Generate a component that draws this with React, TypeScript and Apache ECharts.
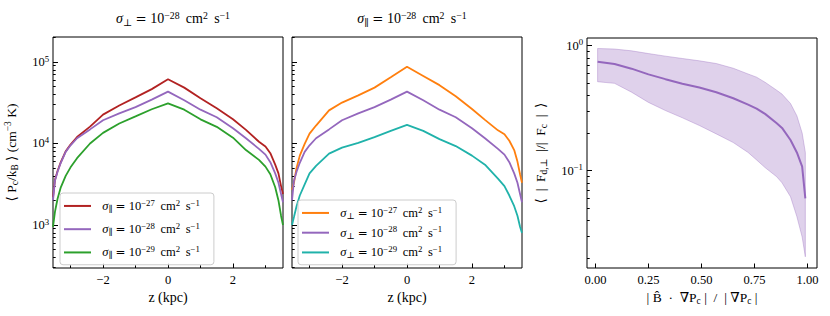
import React, { useEffect, useRef } from 'react';
import * as echarts from 'echarts';

// ---------- data ----------
const zGrid = [-3.54, -3.48, -3.4, -3.3, -3.15, -3.0, -2.8, -2.4, -2.0, -1.5, -1.0, -0.5, 0, 0.5, 1.0, 1.5, 2.0, 2.4, 2.8, 3.0, 3.15, 3.3, 3.4, 3.48, 3.54];
// panel 1: sigma_perp = 1e-28, varying sigma_par
const parE27 = [2200, 3560, 4600, 5900, 8000, 9700, 12000, 16100, 22600, 29300, 36800, 46500, 61400, 48500, 36000, 27000, 19800, 14700, 10500, 9200, 7600, 5500, 4300, 3000, 2400];
const fiducialE28 = [2000, 3500, 4500, 5800, 7900, 9500, 11600, 14900, 19300, 23400, 28000, 34500, 43300, 34000, 26000, 21000, 15400, 11600, 8600, 7300, 5900, 4300, 3300, 2400, 1900];
const parE29 = [950, 1450, 2100, 2900, 4000, 5100, 6600, 10000, 13500, 17600, 21500, 26300, 31100, 26000, 19800, 16000, 11800, 8300, 6300, 5200, 4200, 2900, 2000, 1300, 1000];
// panel 2: sigma_par = 1e-28, varying sigma_perp
const perpE27 = [2700, 3300, 5000, 7100, 9900, 13200, 16600, 25500, 31800, 39000, 48500, 65000, 87500, 67500, 52000, 38000, 26500, 19500, 14500, 13000, 10800, 8300, 6000, 4200, 3300];
const perpE29 = [1000, 1250, 1700, 2300, 3150, 4300, 5300, 7500, 8900, 10200, 12000, 14300, 16900, 14300, 11300, 9300, 7100, 5500, 3700, 3000, 2300, 1700, 1300, 950, 800];
// panel 3
const fracX = [0.01, 0.09, 0.17, 0.25, 0.33, 0.41, 0.49, 0.57, 0.65, 0.72, 0.76, 0.80, 0.855, 0.88, 0.92, 0.95, 0.975, 0.99];
const fracMean = [0.745, 0.714, 0.655, 0.59, 0.54, 0.497, 0.463, 0.424, 0.38, 0.338, 0.314, 0.285, 0.24, 0.22, 0.176, 0.14, 0.108, 0.06];
const fracHigh = [0.95, 0.94, 0.91, 0.865, 0.825, 0.79, 0.757, 0.72, 0.66, 0.594, 0.56, 0.51, 0.44, 0.41, 0.345, 0.275, 0.2, 0.14];
const fracLow = [0.515, 0.5, 0.425, 0.352, 0.303, 0.265, 0.23, 0.197, 0.168, 0.14, 0.122, 0.106, 0.0895, 0.08, 0.062, 0.043, 0.0295, 0.0205];

const zTicks = [-2, 0, 2];
const zMinorTicks = [-3, -1, 1, 3];
const pDecades = [3, 4, 5];
const fDecades = [-1, 0];
const fracTicks = [0, 0.25, 0.5, 0.75, 1];
const mantissas = [2, 3, 4, 5, 6, 7, 8, 9];

const P_MIN = 2.472, P_MAX = 5.307;
const F_MIN = -1.778, F_MAX = 0.0616;

const FONT = "'Liberation Serif', 'DejaVu Serif', serif";
const PURPLE = '#9467bd';

function rich(fs: number) {
  const base = { fontFamily: FONT, color: '#000', fontWeight: 'normal' };
  return {
    n: { ...base, fontSize: fs },
    e: { ...base, fontFamily: "'DejaVu Serif', serif", fontSize: fs * 0.95 },
    i: { ...base, fontSize: fs, fontStyle: 'italic' },
    u: { ...base, fontSize: fs * 0.7, padding: [0, 0, fs * 0.55, 0] },
    d: { ...base, fontSize: fs * 0.7, padding: [fs * 0.45, 0, 0, 0] },
  };
}

const sigmaLabel = (sym: string, exp: string) =>
  `{i|σ}{d|${sym}}{n| }{e|=}{n| 10}{u|${exp}}{n|\u2009 cm}{u|2}{n|\u2009 s}{u|−1}`;
const LABELS: Record<string, string> = {
  par27: '{n|  }' + sigmaLabel('∥', '−27'),
  par28: '{n|  }' + sigmaLabel('∥', '−28'),
  par29: '{n|  }' + sigmaLabel('∥', '−29'),
  perp27: '{n|  }' + sigmaLabel('⊥', '−27'),
  perp28: '{n|  }' + sigmaLabel('⊥', '−28'),
  perp29: '{n|  }' + sigmaLabel('⊥', '−29'),
};

const minorLog = (lo: number, hi: number) => {
  const out: number[] = [];
  for (let e = Math.floor(lo) - 1; e <= Math.ceil(hi); e++) {
    for (const m of mantissas) {
      const v = Math.log10(m) + e;
      if (v > lo && v < hi) out.push(v);
    }
  }
  return out;
};

const expLabel = (v: number) => {
  const e = Math.round(v);
  return `{n|10}{u|${e < 0 ? '−' + Math.abs(e) : e}}`;
};
const zLabel = (v: number) => (v < 0 ? '−' + Math.abs(v) : String(v));

function App() {
  const ref = useRef<HTMLDivElement>(null);
  useEffect(() => {
    if (!ref.current) return;
    const chart = echarts.init(ref.current, null, { renderer: 'svg' });
    const tickLine = { color: '#000', width: 1 };
    const mainX = (gi: number, name: string, min: number, max: number, vals: number[], fmt: (v: number) => string, nameRich?: any) => ({
      type: 'value', gridIndex: gi, min, max, position: 'bottom',
      axisLine: { show: false, onZero: false }, splitLine: { show: false },
      axisTick: { show: true, inside: true, length: 4.5, customValues: vals, lineStyle: tickLine },
      axisLabel: { customValues: vals, formatter: fmt, margin: 5, fontFamily: FONT, fontSize: 12.5, color: '#000' },
      name, nameLocation: 'middle', nameGap: 21,
      nameTextStyle: { fontFamily: FONT, fontSize: 14, color: '#000', rich: nameRich },
    });
    const minorX = (gi: number, min: number, max: number, vals: number[]) => ({
      type: 'value', gridIndex: gi, min, max, position: 'bottom',
      axisLine: { show: false, onZero: false }, splitLine: { show: false }, axisLabel: { show: false },
      axisTick: { show: true, inside: true, length: 2.7, customValues: vals, lineStyle: tickLine },
    });
    const mainY = (gi: number, min: number, max: number, vals: number[], showLabels: boolean, name: string, nameGap: number, nameSize: number) => ({
      type: 'value', gridIndex: gi, min, max, position: 'left',
      axisLine: { show: false, onZero: false }, splitLine: { show: false },
      axisTick: { show: true, inside: true, length: 5, customValues: vals, lineStyle: tickLine },
      axisLabel: { show: showLabels, customValues: vals, formatter: expLabel, margin: 4, rich: rich(12.5) },
      name, nameLocation: 'middle', nameGap, nameRotate: 90,
      nameTextStyle: { rich: rich(nameSize), fontFamily: FONT, fontSize: nameSize, color: '#000' },
    });
    const minorY = (gi: number, min: number, max: number) => ({
      type: 'value', gridIndex: gi, min, max, position: 'left',
      axisLine: { show: false, onZero: false }, splitLine: { show: false }, axisLabel: { show: false },
      axisTick: { show: true, inside: true, length: 2.7, customValues: minorLog(min, max), lineStyle: tickLine },
    });

    const lineSeries = (name: string, xi: number, yi: number, vals: number[], color: string) => ({
      name, type: 'line', xAxisIndex: xi, yAxisIndex: yi,
      data: zGrid.map((z, i) => [z, Math.log10(vals[i])]),
      showSymbol: false, symbol: 'none', color,
      lineStyle: { color, width: 1.8 }, emphasis: { disabled: true }, silent: true,
    });

    const legendBase = {
      orient: 'vertical', itemWidth: 27, itemHeight: 2, icon: 'rect',
      padding: [5, 14, 5, 4], borderColor: '#cccccc', borderWidth: 1, borderRadius: 3,
      backgroundColor: 'rgba(255,255,255,0.8)', selectedMode: false,
      formatter: (n: string) => LABELS[n], textStyle: { rich: rich(12.5) },
    };

    const option: any = {
      animation: false,
      title: [
        { text: sigmaLabel('⊥', '−28'), left: 168, top: 5, textAlign: 'center', textStyle: { rich: rich(14) } },
        { text: sigmaLabel('∥', '−28'), left: 407, top: 5, textAlign: 'center', textStyle: { rich: rich(14) } },
      ],
      legend: [
        { ...legendBase, data: ['par27', 'par28', 'par29'], left: 60, top: 193, itemGap: 8 },
        { ...legendBase, data: ['perp27', 'perp28', 'perp29'], left: 298, top: 200, itemGap: 4.5 },
      ],
      grid: [
        { left: 53, top: 37, width: 230, height: 231, show: true, borderColor: '#000', borderWidth: 1 },
        { left: 292, top: 37, width: 230, height: 231, show: true, borderColor: '#000', borderWidth: 1 },
        { left: 587, top: 38, width: 230, height: 230, show: true, borderColor: '#000', borderWidth: 1 },
      ],
      xAxis: [
        mainX(0, 'z (kpc)', -3.54, 3.54, zTicks, zLabel),
        minorX(0, -3.54, 3.54, zMinorTicks),
        mainX(1, 'z (kpc)', -3.54, 3.54, zTicks, zLabel),
        minorX(1, -3.54, 3.54, zMinorTicks),
        mainX(2, '{n|| B̂\u2002·\u2002∇P}{d|c}{n| |\u2002/\u2002| ∇P}{d|c}{n| |}', -0.04, 1.045, fracTicks, (v: number) => v.toFixed(2), rich(13.5)),
      ],
      yAxis: [
        mainY(0, P_MIN, P_MAX, pDecades, true, '{n|⟨ P}{d|c}{n|/k}{d|B}{n| ⟩ (cm}{u|−3}{n| K)}', 33, 13.5),
        minorY(0, P_MIN, P_MAX),
        mainY(1, P_MIN, P_MAX, pDecades, false, '', 20, 13),
        minorY(1, P_MIN, P_MAX),
        mainY(2, F_MIN, F_MAX, fDecades, true, '{n|⟨\u2002|\u2002F}{d|d,⊥}{n|\u2002|/|\u2002F}{d|c}{n|\u2002|\u2002⟩}', 39, 13.5),
        minorY(2, F_MIN, F_MAX),
      ],
      series: [
        lineSeries('par27', 0, 0, parE27, '#b22222'),
        lineSeries('par28', 0, 0, fiducialE28, PURPLE),
        lineSeries('par29', 0, 0, parE29, '#2ca02c'),
        lineSeries('perp27', 2, 2, perpE27, '#ff7f0e'),
        lineSeries('perp28', 2, 2, fiducialE28, PURPLE),
        lineSeries('perp29', 2, 2, perpE29, '#20b2aa'),
        {
          name: 'band', type: 'custom', xAxisIndex: 4, yAxisIndex: 4, silent: true, clip: true,
          data: fracX.map((x, i) => [x, Math.log10(fracLow[i]), Math.log10(fracHigh[i])]),
          encode: { x: 0, y: [1, 2] },
          renderItem: (params: any, api: any) => {
            if (params.dataIndex !== 0) return null;
            const upper = fracX.map((x, i) => api.coord([x, Math.log10(fracHigh[i])]));
            const lower = fracX.map((x, i) => api.coord([x, Math.log10(fracLow[i])])).reverse();
            return {
              type: 'polygon',
              shape: { points: upper.concat(lower) },
              style: { fill: 'rgba(148,103,189,0.3)', stroke: 'rgba(148,103,189,0.35)', lineWidth: 1 },
            };
          },
        },
        {
          name: 'mean', type: 'line', xAxisIndex: 4, yAxisIndex: 4,
          data: fracX.map((x, i) => [x, Math.log10(fracMean[i])]),
          showSymbol: false, symbol: 'none', lineStyle: { color: PURPLE, width: 2 },
          emphasis: { disabled: true }, silent: true, z: 5,
        },
      ],
    };
    chart.setOption(option);
    return () => chart.dispose();
  }, []);
  return <div ref={ref} style={{ position: 'fixed', left: 0, top: 0, width: 830, height: 316, background: '#fff' }} />;
}

export default App;
